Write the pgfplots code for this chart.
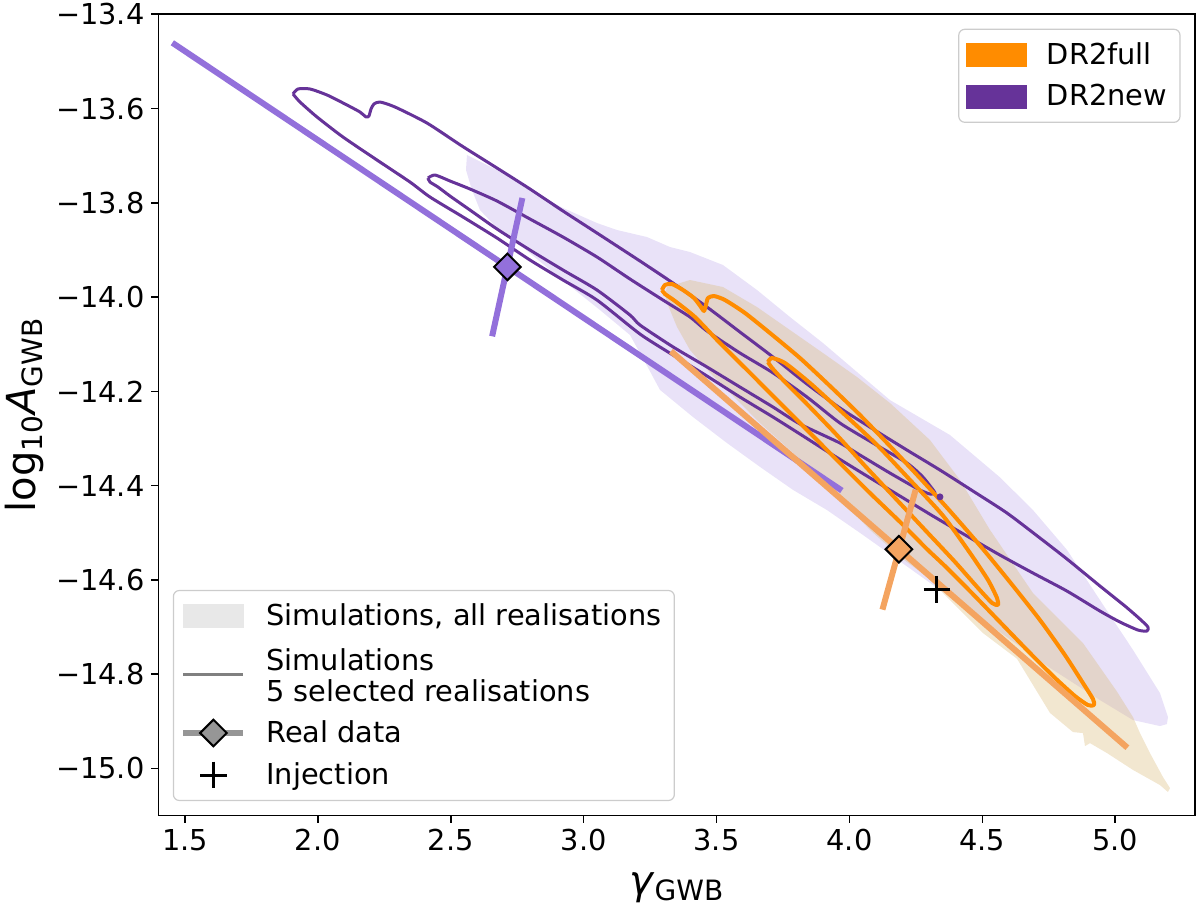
\documentclass[border=0pt]{standalone}
\usepackage{pgfplots}
\pgfplotsset{compat=1.18}
\usepackage{fontspec}
\setmainfont{DejaVu Sans}
\definecolor{cPurple}{RGB}{102,51,153}
\definecolor{cOrange}{RGB}{255,140,0}
\definecolor{cLPurple}{RGB}{147,112,219}
\definecolor{cLOrange}{RGB}{244,164,96}
\definecolor{cLav}{RGB}{233,226,248}
\definecolor{cTan}{RGB}{219,188,125}
\definecolor{cFrame}{RGB}{204,204,204}
\definecolor{cLegPatch}{RGB}{232,232,232}
\definecolor{cLegLine}{RGB}{128,128,128}
\definecolor{cLegReal}{RGB}{150,150,150}
\pgfplotsset{
  mylegend/.style={
    draw=cFrame, line width=0.6pt, rounded corners=3pt, fill=white,
    font=\fontsize{14.4}{15.5}\selectfont,
    inner xsep=3.5pt, inner ysep=2.25pt,
    row sep=0pt, column sep=7pt,
    nodes={inner xsep=3pt, inner ysep=1pt},
    cells={align=left},
  },
  legline/.style={legend image code/.code={\draw[##1, sharp corners] (0pt,0pt) -- (30pt,0pt); \path[draw=none, fill=none] (0pt,-18.75pt) -- (0pt,18.75pt);}},
  legmark/.style={legend image code/.code={\draw[mark repeat=2, mark phase=2, sharp corners, ##1] plot coordinates {(0pt,0pt) (15pt,0pt) (30pt,0pt)}; \path[draw=none, fill=none] (0pt,-10.5pt) -- (0pt,10.5pt);}},
  legpatch/.style={legend image code/.code={\fill[#1, sharp corners] (0pt,-5.75pt) rectangle (30pt,5.75pt); \path[draw=none, fill=none] (0pt,-10.5pt) -- (0pt,10.5pt);}},
}
\begin{document}
\begin{tikzpicture}
\begin{axis}[
  scale only axis, width=518.3pt, height=400.6pt,
  xmin=1.4, xmax=5.3, ymin=-15.1, ymax=-13.4,
  xtick={1.5,2,2.5,3,3.5,4,4.5,5},
  xticklabels={1.5,2.0,2.5,3.0,3.5,4.0,4.5,5.0},
  ytick={-15,-14.8,-14.6,-14.4,-14.2,-14,-13.8,-13.6,-13.4},
  yticklabels={−15.0,−14.8,−14.6,−14.4,−14.2,−14.0,−13.8,−13.6,−13.4},
  tick align=outside, major tick length=3.5pt,
  xtick pos=left, ytick pos=left,
  tick style={black, line width=0.8pt},
  axis line style={line width=0.8pt},
  tick label style={font=\fontsize{14.4}{17}\selectfont},
  xlabel={\fontsize{20}{24}\selectfont\textit{γ}\textsubscript{GWB}},
  ylabel={\fontsize{20}{24}\selectfont log\textsubscript{10}\textit{A}\textsubscript{GWB}},
  xlabel style={at={(axis description cs:0.5,0)}, anchor=base, yshift=-39.3pt},
  ylabel style={at={(axis description cs:-0.129,0.5)}, anchor=center},
  legend style={mylegend, at={(1,1)}, anchor=north east, xshift=-7.2pt, yshift=-7.2pt},
  legend cell align=left,
]
% shaded regions: all realisations
\addplot[fill=cLav, draw=none, forget plot] coordinates {
(2.5609,-13.6986) (2.6738,-13.7304) (2.7980,-13.7728) (2.9221,-13.8110) (3.0500,-13.8429)
(3.1253,-13.8577) (3.2381,-13.8726) (3.3247,-13.8938) (3.3999,-13.9044) (3.5241,-13.9320)
(3.6520,-13.9850) (3.7761,-14.0423) (3.9003,-14.0975) (4.0282,-14.1590) (4.1523,-14.2185)
(4.3781,-14.2927) (4.5662,-14.3825) (4.6903,-14.4519) (4.8183,-14.5364) (4.9424,-14.6429)
(5.0666,-14.7486) (5.1681,-14.8402) (5.1982,-14.8911) (5.1944,-14.9060) (5.1681,-14.9102)
(5.0666,-14.8975) (4.9424,-14.8551) (4.7543,-14.7868) (4.5286,-14.6959) (4.3028,-14.6064)
(4.1034,-14.5258) (4.0395,-14.5003) (3.9153,-14.4519) (3.7874,-14.4091) (3.6633,-14.3603)
(3.5391,-14.3097) (3.4112,-14.2545) (3.2870,-14.1969) (3.2306,-14.1378) (3.1742,-14.0805)
(3.0613,-14.0275) (2.9108,-13.9596) (2.7603,-13.8895) (2.6738,-13.8535) (2.6098,-13.8153)
(2.5797,-13.7728) (2.5572,-13.7304)
} -- cycle;
\addplot[fill=cTan, fill opacity=0.36, draw=none, forget plot] coordinates {
(3.3134,-13.9787) (3.3999,-13.9638) (3.5241,-13.9787) (3.6520,-14.0211) (3.7761,-14.0699)
(3.9003,-14.1187) (4.0282,-14.1696) (4.1523,-14.2248) (4.3028,-14.3033) (4.4157,-14.3879)
(4.5286,-14.4940) (4.6903,-14.6280) (4.8785,-14.7341) (5.0064,-14.8371) (5.0666,-14.8911)
(5.0929,-14.9251) (5.1305,-14.9675) (5.1794,-15.0184) (5.2058,-15.0418) (5.1982,-15.0502)
(5.1681,-15.0354) (5.0666,-15.0033) (4.9687,-14.9675) (4.9048,-14.9464) (4.8860,-14.9528)
(4.8785,-14.9251) (4.8408,-14.9230) (4.7543,-14.8823) (4.6302,-14.7674) (4.5022,-14.7129)
(4.3781,-14.6429) (4.2916,-14.5937) (4.1900,-14.5513) (4.0771,-14.4940) (3.9153,-14.3985)
(3.7761,-14.3246) (3.6633,-14.2673) (3.5692,-14.2139) (3.4752,-14.1608) (3.3999,-14.1122)
(3.3510,-14.0633) (3.3171,-14.0169) (3.3059,-13.9956)
} -- cycle;
% DR2new selected realisations (contour)
\addplot[cPurple, line width=1.5pt, smooth, tension=0.4, line join=round, forget plot] coordinates {
(1.9063,-13.5691) (1.9251,-13.5585) (1.9703,-13.5585) (2.0342,-13.5712) (2.1020,-13.5903)
(2.1584,-13.6073) (2.1810,-13.6179) (2.1922,-13.6158) (2.1998,-13.6010) (2.2111,-13.5903)
(2.2336,-13.5861) (2.2901,-13.5967) (2.4104,-13.6307) (2.5421,-13.6795) (2.6738,-13.7262)
(2.7980,-13.7707) (2.9221,-13.8174) (3.0500,-13.8641) (3.2118,-13.9235) (3.3360,-13.9702)
(3.4639,-14.0211) (3.5880,-14.0742) (3.7122,-14.1272) (3.8401,-14.1845) (3.9642,-14.2354)
(4.0884,-14.2800) (4.2163,-14.3246) (4.3405,-14.3670) (4.4646,-14.4116) (4.5925,-14.4582)
(4.7167,-14.5113) (4.8183,-14.5558) (4.9424,-14.6131) (5.0365,-14.6556) (5.0929,-14.6832)
(5.1230,-14.7002) (5.1192,-14.7086) (5.0854,-14.7065) (5.0177,-14.6895) (4.9424,-14.6662)
(4.8183,-14.6238) (4.6903,-14.5855) (4.5662,-14.5474) (4.4420,-14.5070) (4.3141,-14.4646)
(4.1900,-14.4222) (4.0658,-14.3797) (3.9379,-14.3352) (3.8138,-14.2906) (3.7122,-14.2545)
(3.5880,-14.2121) (3.4639,-14.1675) (3.3360,-14.1230) (3.2118,-14.0784) (3.0500,-14.0063)
(2.9221,-13.9638) (2.7980,-13.9214) (2.6738,-13.8747) (2.5459,-13.8301) (2.4217,-13.7877)
(2.3465,-13.7559) (2.2223,-13.7092) (2.0944,-13.6604) (1.9966,-13.6179) (1.9327,-13.5861)
(1.9063,-13.5691)
};
\addplot[cPurple, line width=1.5pt, smooth, tension=0.4, line join=round, forget plot] coordinates {
(2.4142,-13.7474) (2.4406,-13.7410) (2.4970,-13.7537) (2.5722,-13.7707) (2.6738,-13.7962)
(2.7980,-13.8344) (2.9221,-13.8726) (3.0500,-13.9150) (3.1742,-13.9617) (3.2983,-14.0063)
(3.3999,-14.0423) (3.4639,-14.0720) (3.5880,-14.1187) (3.7122,-14.1608) (3.8401,-14.2121)
(3.9642,-14.2673) (4.0884,-14.3097) (4.2163,-14.3522) (4.2727,-14.3797) (4.3066,-14.4031)
(4.3217,-14.4158) (4.3028,-14.4179) (4.2577,-14.4073) (4.1523,-14.3734) (4.0395,-14.3352)
(3.9642,-14.3097) (3.8138,-14.2694) (3.7122,-14.2333) (3.5880,-14.1909) (3.4639,-14.1484)
(3.3360,-14.1057) (3.2118,-14.0593) (3.1742,-14.0381) (3.0500,-13.9850) (2.9221,-13.9426)
(2.7980,-13.9002) (2.6738,-13.8556) (2.5722,-13.8153) (2.4970,-13.7856) (2.4518,-13.7665)
(2.4217,-13.7559) (2.4142,-13.7474)
};
\addplot[only marks, mark=*, mark size=1.5pt, cPurple, forget plot] coordinates {(4.3405,-14.4239)};
% DR2full selected realisations (contour)
\addplot[cOrange, line width=2pt, smooth, tension=0.4, line join=round, forget plot] coordinates {
(3.2946,-13.9850) (3.3059,-13.9744) (3.3322,-13.9723) (3.3736,-13.9850) (3.4150,-14.0020)
(3.4413,-14.0211) (3.4526,-14.0296) (3.4601,-14.0169) (3.4676,-14.0020) (3.4902,-13.9978)
(3.5316,-14.0063) (3.6068,-14.0338) (3.7009,-14.0763) (3.8138,-14.1294) (3.9266,-14.1887)
(4.0395,-14.2503) (4.1523,-14.3161) (4.2652,-14.3840) (4.3781,-14.4540) (4.5022,-14.5347)
(4.6038,-14.6047) (4.7167,-14.6853) (4.8107,-14.7596) (4.8785,-14.8190) (4.9161,-14.8529)
(4.9198,-14.8657) (4.8973,-14.8657) (4.8484,-14.8466) (4.7731,-14.8080) (4.6791,-14.7553)
(4.5662,-14.6895) (4.4533,-14.6238) (4.3593,-14.5707) (4.2916,-14.5347) (4.1900,-14.4770)
(4.0771,-14.4158) (3.9642,-14.3522) (3.8514,-14.2885) (3.7385,-14.2248) (3.6256,-14.1608)
(3.5128,-14.0975) (3.4187,-14.0423) (3.3435,-14.0084) (3.3059,-13.9935) (3.2946,-13.9850)
};
\addplot[cOrange, line width=2pt, smooth, tension=0.4, line join=round, forget plot] coordinates {
(3.6934,-14.1378) (3.7084,-14.1294) (3.7573,-14.1399) (3.8514,-14.1824) (3.9755,-14.2460)
(4.1034,-14.3136) (4.2276,-14.3879) (4.3517,-14.4637) (4.4533,-14.5428) (4.5210,-14.6001)
(4.5549,-14.6383) (4.5587,-14.6531) (4.5361,-14.6489) (4.4834,-14.6171) (4.3969,-14.5619)
(4.2840,-14.4940) (4.1712,-14.4261) (4.0583,-14.3582) (3.9454,-14.2885) (3.8326,-14.2227)
(3.7573,-14.1803) (3.7084,-14.1502) (3.6934,-14.1378)
};
% real data
\addplot[cLPurple, line width=3pt, line cap=rect, forget plot] coordinates {(1.462,-13.464) (3.962,-14.407)};
\addplot[cLPurple, line width=3pt, line cap=rect, forget plot] coordinates {(2.658,-14.077) (2.767,-13.796)};
\addplot[cLOrange, line width=3pt, line cap=rect, forget plot] coordinates {(3.337,-14.119) (5.037,-14.952)};
\addplot[cLOrange, line width=3pt, line cap=rect, forget plot] coordinates {(4.127,-14.657) (4.246,-14.415)};
\addplot[only marks, mark=square*, mark size=4.7pt, mark options={rotate=45, fill=cLPurple, draw=black, line width=1pt}, forget plot] coordinates {(2.713,-13.936)};
\addplot[only marks, mark=square*, mark size=4.7pt, mark options={rotate=45, fill=cLOrange, draw=black, line width=1pt}, forget plot] coordinates {(4.186,-14.535)};
% injection
\addplot[only marks, mark=+, mark size=6.7pt, mark options={line width=1.5pt}, black, forget plot] coordinates {(4.329,-14.620)};
% legend (datasets)
\addlegendimage{legpatch=cOrange}
\addlegendentry{DR2full}
\addlegendimage{legpatch=cPurple}
\addlegendentry{DR2new}
\end{axis}
\begin{axis}[
  scale only axis, width=518.3pt, height=400.6pt,
  xmin=1.4, xmax=5.3, ymin=-15.1, ymax=-13.4,
  hide axis,
  legend style={mylegend, at={(0,0)}, anchor=south west, xshift=7.2pt, yshift=7.2pt},
  legend cell align=left,
]
\addlegendimage{legpatch=cLegPatch}
\addlegendentry{Simulations, all realisations}
\addlegendimage{cLegLine, line width=1.5pt, legline}
\addlegendentry{\raisebox{5.5pt}{\renewcommand\arraystretch{1.0}\begin{tabular}{@{}l@{}}Simulations\\5 selected realisations\end{tabular}}}
\addlegendimage{cLegReal, line width=3pt, mark=square*, mark size=4.7pt, mark options={rotate=45, fill=cLegReal, draw=black, line width=1pt}, legmark}
\addlegendentry{Real data}
\addlegendimage{black, only marks, mark=+, mark size=6.7pt, mark options={line width=1.5pt}, legmark}
\addlegendentry{Injection}
\end{axis}
\pgfresetboundingbox
\path[use as bounding box] ([shift={(-79.2pt,-46.3pt)}]current axis.south west) rectangle ([shift={(2.5pt,7.15pt)}]current axis.north east);
\end{tikzpicture}
\end{document}
